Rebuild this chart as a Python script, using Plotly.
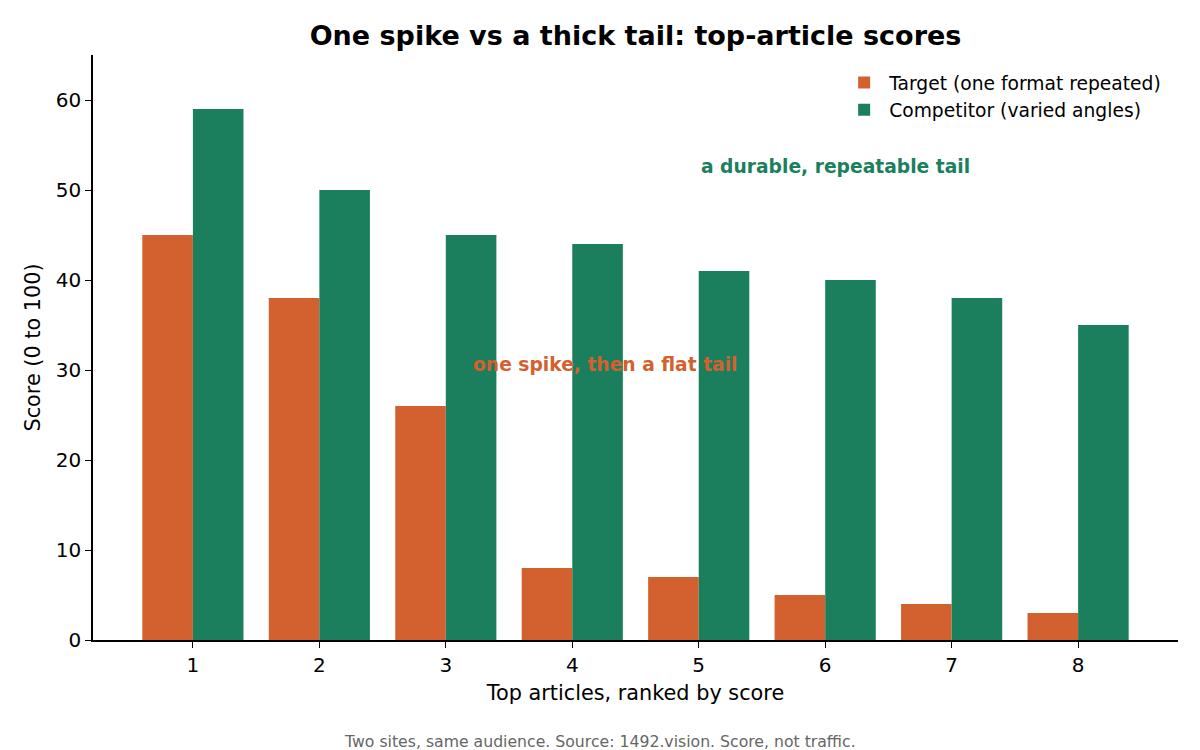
import plotly.graph_objects as go

ranks = [1, 2, 3, 4, 5, 6, 7, 8]
target_scores = [45, 38, 26, 8, 7, 5, 4, 3]
competitor_scores = [59, 50, 45, 44, 41, 40, 38, 35]

ORANGE = "#D3612F"
GREEN = "#1B7F5E"
FONT = "DejaVu Sans"

# the page draws the figure 8px in from the top-left, so margins are shifted by that
fig = go.Figure()
fig.add_trace(go.Bar(x=ranks, y=target_scores, name="Target (one format repeated)",
                     marker=dict(color=ORANGE, line_width=0)))
fig.add_trace(go.Bar(x=ranks, y=competitor_scores, name="Competitor (varied angles)",
                     marker=dict(color=GREEN, line_width=0)))

fig.update_layout(
    width=1200, height=750,
    margin=dict(l=85, r=30, t=47, b=118),
    paper_bgcolor="white", plot_bgcolor="white",
    font=dict(family=FONT, size=20, color="black"),
    barmode="group", bargap=0.2, bargroupgap=0,
    title=dict(text="<b>One spike vs a thick tail: top-article scores</b>",
               xref="paper", x=0.5, xanchor="center", y=1 - 28 / 750, yanchor="middle",
               font=dict(size=27)),
    legend=dict(x=0.99, y=0.985, xanchor="right", yanchor="top",
                bgcolor="rgba(0,0,0,0)", font=dict(size=18.7), itemwidth=40),
    showlegend=True,
)

fig.update_xaxes(range=[0.21, 8.79], tickvals=ranks, showline=True, linecolor="black",
                 linewidth=1.5, ticks="outside", ticklen=6, tickcolor="black",
                 showgrid=False, zeroline=False, tickfont=dict(size=20),
                 title=dict(text="Top articles, ranked by score", standoff=10,
                            font=dict(size=20.8)))
fig.update_yaxes(range=[0, 65], tickvals=[0, 10, 20, 30, 40, 50, 60], showline=True,
                 linecolor="black", linewidth=1.5, ticks="outside", ticklen=6,
                 tickcolor="black", showgrid=False, zeroline=False, tickfont=dict(size=20),
                 title=dict(text="Score (0 to 100)", standoff=10, font=dict(size=20.8)))

fig.add_annotation(x=5.0, y=52.6, text="<b>a durable, repeatable tail</b>", showarrow=False,
                   xanchor="left", yanchor="middle", font=dict(color=GREEN, size=18.7))
fig.add_annotation(x=3.2, y=30.6, text="<b>one spike, then a flat tail</b>", showarrow=False,
                   xanchor="left", yanchor="middle", font=dict(color=ORANGE, size=18.7))

# footer is centred on the page, not on the plot area
fig.add_annotation(x=(592 - 85) / 1085, y=-(741 - 640) / (640 - 55), xref="paper", yref="paper",
                   xanchor="center", yanchor="middle", showarrow=False,
                   text="Two sites, same audience. Source: 1492.vision. Score, not traffic.",
                   font=dict(color="#666666", size=15.7))

fig.write_html("out.html")
